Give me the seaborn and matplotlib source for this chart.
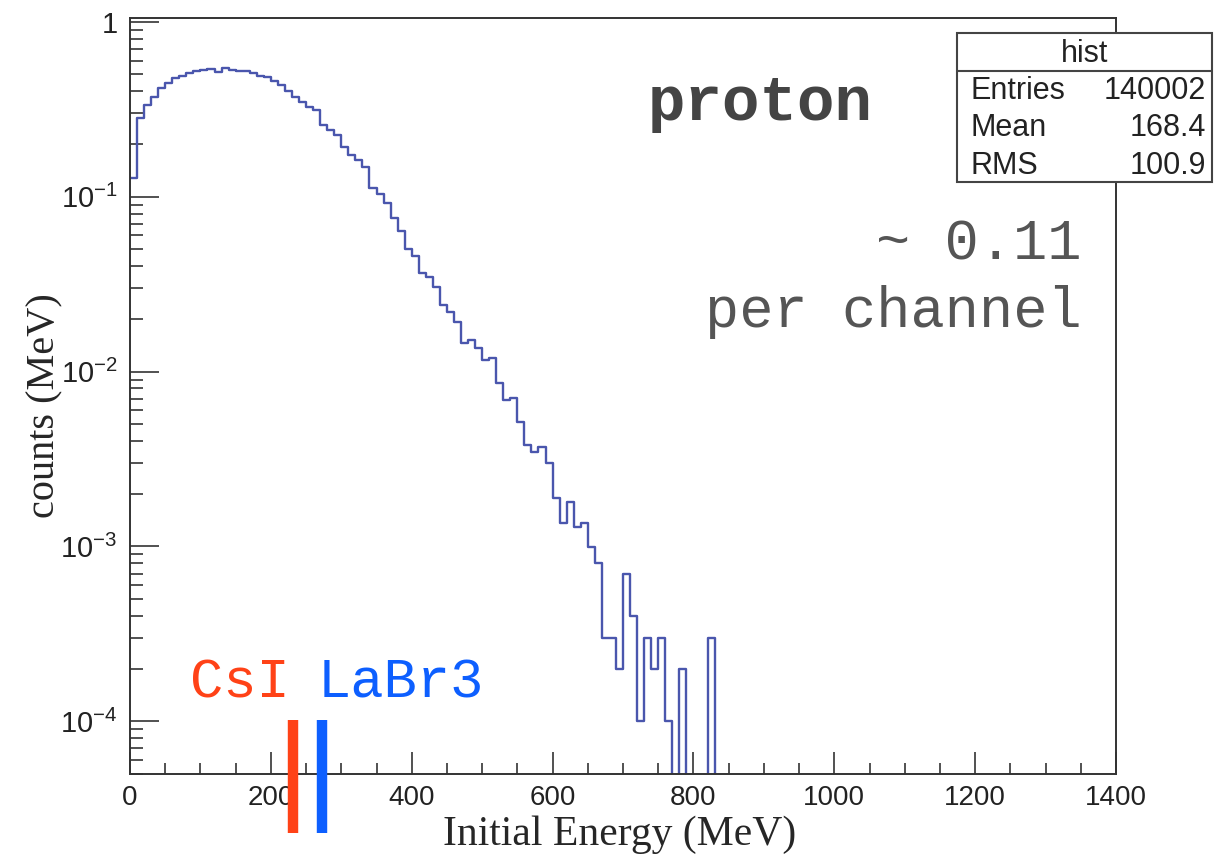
import numpy as np
import pandas as pd
import matplotlib
matplotlib.use("Agg")
import matplotlib.pyplot as plt
from matplotlib.ticker import FixedLocator, MultipleLocator, LogLocator, NullFormatter, FuncFormatter
from matplotlib.patches import Rectangle
from matplotlib.lines import Line2D
import seaborn as sns

# ------------------------------------------------------------------
# Dados lidos do histograma (bins de 10 MeV a partir de 0)
# ------------------------------------------------------------------
bin_width = 10
counts = [
    0.128, 0.282, 0.335, 0.372, 0.419, 0.447, 0.478, 0.491, 0.512, 0.522,
    0.531, 0.540, 0.516, 0.545, 0.531, 0.526, 0.524, 0.510, 0.492, 0.480,
    0.458, 0.432, 0.404, 0.373, 0.349, 0.327, 0.313, 0.257, 0.241, 0.225,
    0.192, 0.173, 0.162, 0.148, 0.112, 0.104, 0.092, 0.075, 0.064, 0.050,
    0.046, 0.0366, 0.0347, 0.0304, 0.0240, 0.0219, 0.0192, 0.0146, 0.0151, 0.0136,
    0.0117, 0.0119, 0.0086, 0.00686, 0.0071, 0.00513, 0.0038, 0.00346, 0.0037, 0.0030,
    0.0019, 0.00136, 0.00179, 0.00129, 0.00137, 0.00099, 0.00080, 0.00030, 0.00030, 0.00020,
    0.00070, 0.00040, 0.00010, 0.00030, 0.00020, 0.00030, 0.00010, 0.0, 0.00020, 0.0,
    0.0, 0.0, 0.00030, 0.0,
]
n_bins = len(counts)
centers = np.arange(n_bins) * bin_width + bin_width / 2
df = pd.DataFrame({'energy': centers, 'counts': counts})

stats_title = "hist"
stats_labels = ["Entries", "Mean", "RMS"]
stats_values = ["140002", "168.4", "100.9"]

detector_names = ["CsI", "LaBr3"]
detector_energy = [231, 273]
detector_colors = ["#ff4217", "#0d5fff"]

x_ticks = [0, 200, 400, 600, 800, 1000, 1200, 1400]
y_ticks = [1e-4, 1e-3, 1e-2, 1e-1, 1]

# ------------------------------------------------------------------
# Estilo
# ------------------------------------------------------------------
sns.set_style("ticks")
plt.rcParams['font.family'] = ['Liberation Sans', 'DejaVu Sans']
plt.rcParams['mathtext.default'] = 'regular'

W, H = 1219, 859
fig = plt.figure(figsize=(W / 100, H / 100), dpi=100)
ax = fig.add_axes([130 / W, 1 - 774 / H, (1116 - 130) / W, (774 - 18) / H])

sns.histplot(data=df, x='energy', weights='counts', bins=n_bins,
             binrange=(0, n_bins * bin_width), element="step", fill=False,
             color="#4a56ad", linewidth=1.7, ax=ax)

ax.set_yscale('log', nonpositive='clip')
ax.set_xlim(0, 1400)
ax.set_ylim(5e-5, 1.05)

# Eixos estilo ROOT
for s in ax.spines.values():
    s.set_color('#333333')
    s.set_linewidth(1.4)

ax.xaxis.set_major_locator(FixedLocator(x_ticks))
ax.xaxis.set_minor_locator(MultipleLocator(50))
ax.yaxis.set_major_locator(FixedLocator(y_ticks))
ax.yaxis.set_minor_locator(LogLocator(base=10, subs=np.arange(2, 10)))
ax.yaxis.set_minor_formatter(NullFormatter())

def fmt_y(v, pos):
    e = int(round(np.log10(v)))
    return '1' if e == 0 else r'$10^{%d}$' % e

ax.yaxis.set_major_formatter(FuncFormatter(fmt_y))

ax.tick_params(axis='x', which='major', direction='in', length=16, width=1.2,
               color='#333333', labelsize=20, pad=8, labelcolor='#222222')
ax.tick_params(axis='x', which='minor', direction='in', length=8, width=1.2, color='#333333')
ax.tick_params(axis='y', which='major', direction='in', length=21, width=1.2,
               color='#333333', labelsize=21, pad=9, labelcolor='#222222')
ax.tick_params(axis='y', which='minor', direction='in', length=9, width=1.2, color='#333333')

ax.set_xlabel('')
ax.set_ylabel('')
fig.text(620 / W, 1 - 845 / H, 'Initial Energy (MeV)', ha='center', va='baseline',
         fontsize=30, family='Liberation Serif')
fig.text(45 / W, 1 - 406 / H, 'counts (MeV)', ha='center', va='center', rotation=90,
         fontsize=29, family='Liberation Serif')

# Textos
fig.text(648 / W, 1 - 120 / H, 'proton', ha='left', va='baseline', fontsize=45,
         family='Liberation Mono', weight='bold', color='#444444')
fig.text(1082 / W, 1 - 260 / H, '~ 0.11', ha='right', va='baseline', fontsize=41,
         family='Liberation Mono', color='#555555')
fig.text(1082 / W, 1 - 327 / H, 'per channel', ha='right', va='baseline', fontsize=41,
         family='Liberation Mono', color='#555555')

# Marcadores dos detectores
label_x = [190, 318]
for name, e, c, lx in zip(detector_names, detector_energy, detector_colors, label_x):
    ax.plot([e, e], [2.3e-5, 1.02e-4], color=c, linewidth=7.5, solid_capstyle='butt',
            clip_on=False, zorder=5)
    fig.text(lx / W, 1 - 697 / H, name, ha='left', va='baseline', fontsize=40,
             family='Liberation Mono', color=c)

# Caixa de estatísticas
bx0, bx1, by0, by1, bsep = 957, 1212, 33, 182, 71
fig.patches.append(Rectangle((bx0 / W, 1 - by1 / H), (bx1 - bx0) / W, (by1 - by0) / H,
                             transform=fig.transFigure, facecolor='white',
                             edgecolor='#444444', linewidth=1.5, zorder=10))
fig.lines.append(Line2D([bx0 / W, bx1 / W], [1 - bsep / H, 1 - bsep / H],
                        transform=fig.transFigure, color='#444444', linewidth=1.5, zorder=11))
fig.text((bx0 + bx1) / 2 / W, 1 - 54 / H, stats_title, ha='center', va='center',
         fontsize=22, zorder=12, color='#222222')
row_y = [99, 136, 174]
for lab, val, ry in zip(stats_labels, stats_values, row_y):
    fig.text(970 / W, 1 - ry / H, lab, ha='left', va='baseline', fontsize=22, zorder=12,
             color='#222222')
    fig.text(1206 / W, 1 - ry / H, val, ha='right', va='baseline', fontsize=22, zorder=12,
             color='#222222')

plt.savefig('out.png', dpi=100)
